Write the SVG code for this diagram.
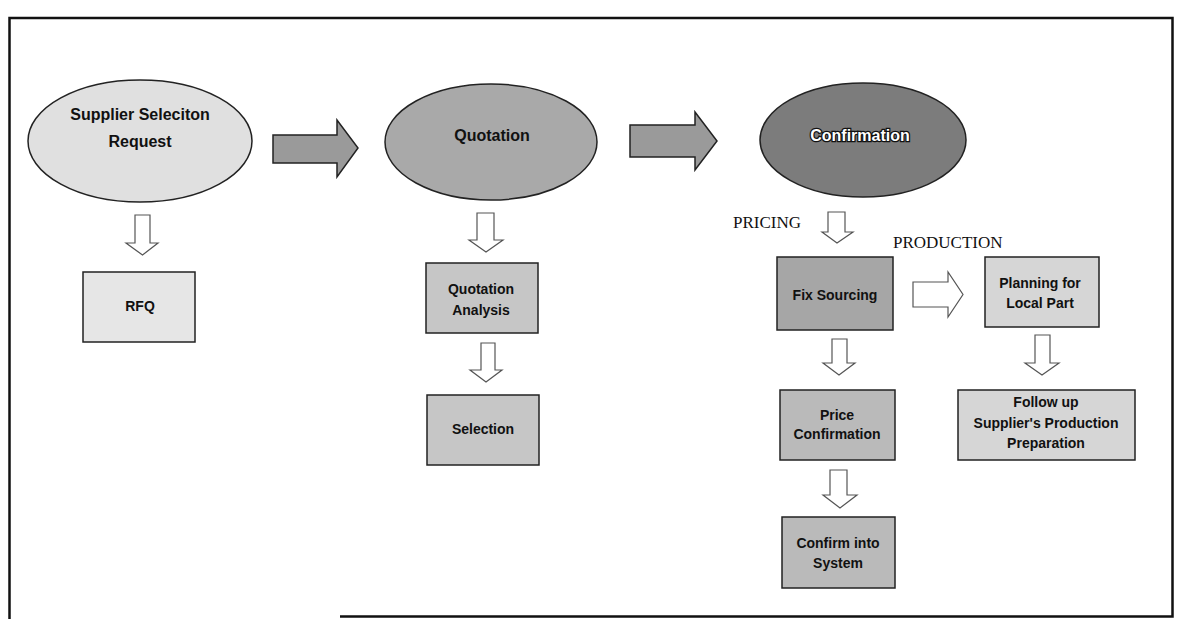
<svg xmlns="http://www.w3.org/2000/svg" width="1179" height="619" viewBox="0 0 1179 619">
  <style>
    .frame { fill: none; stroke: #111; stroke-width: 2.5; }
    .oval { stroke: #222; stroke-width: 1.5; }
    .box { stroke: #222; stroke-width: 1.5; }
    .bigarrow { fill: #9a9a9a; stroke: #222; stroke-width: 1.5; stroke-linejoin: miter; }
    .smallarrow { fill: #fff; stroke: #555; stroke-width: 1.2; stroke-linejoin: miter; }
    .ovaltext { font-family: "Liberation Sans", Arial, sans-serif; font-weight: bold; font-size: 16px; text-anchor: middle; fill: #111; }
    .ovaltext.light { fill: #fff; stroke: #111; stroke-width: 2.5; paint-order: stroke; }
    .boxtext { font-family: "Liberation Sans", Arial, sans-serif; font-weight: bold; font-size: 14px; text-anchor: middle; fill: #111; }
    .label { font-family: "Liberation Serif", "Times New Roman", serif; font-size: 17px; fill: #111; }
  </style>

  <rect width="1179" height="619" fill="#fff"/>

  <!-- outer frame (bottom edge starts part way across) -->
  <path class="frame" d="M 340 616.5 L 1172.5 616.5 L 1172.5 18 L 9.5 18 L 9.5 619"/>

  <!-- stage ellipses -->
  <g id="node-supplier-request">
    <ellipse class="oval" cx="140" cy="141" rx="112" ry="61" fill="#e0e0e0"/>
    <text class="ovaltext" x="140" y="120">Supplier Seleciton</text>
    <text class="ovaltext" x="140" y="147">Request</text>
  </g>

  <g id="node-quotation">
    <ellipse class="oval" cx="491" cy="142" rx="106" ry="58" fill="#a9a9a9"/>
    <text class="ovaltext" x="492" y="141">Quotation</text>
  </g>

  <g id="node-confirmation">
    <ellipse class="oval" cx="863" cy="140" rx="103" ry="57" fill="#7c7c7c"/>
    <text class="ovaltext light" x="860" y="141">Confirmation</text>
  </g>

  <!-- process boxes -->
  <g id="node-rfq">
    <rect class="box" x="83" y="272" width="112" height="70" fill="#e6e6e6"/>
    <text class="boxtext" x="140" y="311">RFQ</text>
  </g>

  <g id="node-quotation-analysis">
    <rect class="box" x="426" y="263" width="112" height="70" fill="#c6c6c6"/>
    <text class="boxtext" x="481" y="294">Quotation</text>
    <text class="boxtext" x="481" y="315">Analysis</text>
  </g>

  <g id="node-selection">
    <rect class="box" x="427" y="395" width="112" height="70" fill="#c6c6c6"/>
    <text class="boxtext" x="483" y="434">Selection</text>
  </g>

  <g id="node-fix-sourcing">
    <rect class="box" x="777" y="257" width="116" height="73" fill="#a6a6a6"/>
    <text class="boxtext" x="835" y="300">Fix Sourcing</text>
  </g>

  <g id="node-price-confirmation">
    <rect class="box" x="780" y="390" width="115" height="70" fill="#bababa"/>
    <text class="boxtext" x="837" y="420">Price</text>
    <text class="boxtext" x="837" y="439">Confirmation</text>
  </g>

  <g id="node-confirm-system">
    <rect class="box" x="782" y="517" width="113" height="71" fill="#bababa"/>
    <text class="boxtext" x="838" y="548">Confirm into</text>
    <text class="boxtext" x="838" y="568">System</text>
  </g>

  <g id="node-planning">
    <rect class="box" x="985" y="257" width="114" height="70" fill="#d6d6d6"/>
    <text class="boxtext" x="1040" y="288">Planning for</text>
    <text class="boxtext" x="1040" y="308">Local Part</text>
  </g>

  <g id="node-follow-up">
    <rect class="box" x="958" y="390" width="177" height="70" fill="#d6d6d6"/>
    <text class="boxtext" x="1046" y="407">Follow up</text>
    <text class="boxtext" x="1046" y="428">Supplier's Production</text>
    <text class="boxtext" x="1046" y="448">Preparation</text>
  </g>

  <!-- branch labels -->
  <g id="labels">
    <text class="label" x="733" y="228">PRICING</text>
    <text class="label" x="893" y="248">PRODUCTION</text>
  </g>

  <!-- block arrows -->
  <g id="connectors">
    <!-- stage to stage -->
    <path class="bigarrow" d="M 273 135 L 337 135 L 337 120 L 358 148 L 337 177 L 337 163 L 273 163 Z"/>
    <path class="bigarrow" d="M 630 125 L 695 125 L 695 112 L 717 141 L 695 170 L 695 157 L 630 157 Z"/>

    <!-- downward arrows -->
    <path class="smallarrow" d="M 135 215 L 150 215 L 150 243 L 158 243 L 142.5 255 L 126 243 L 135 243 Z"/>
    <path class="smallarrow" d="M 477 213 L 494 213 L 494 240 L 503 240 L 486 252 L 469 240 L 477 240 Z"/>
    <path class="smallarrow" d="M 481 343 L 495 343 L 495 370 L 502 370 L 486 382 L 470 370 L 481 370 Z"/>
    <path class="smallarrow" d="M 828 212 L 845 212 L 845 232 L 853 232 L 837 243 L 822 232 L 828 232 Z"/>
    <path class="smallarrow" d="M 832 339 L 847 339 L 847 363 L 855 363 L 839 375 L 823 363 L 832 363 Z"/>
    <path class="smallarrow" d="M 830 470 L 847 470 L 847 495 L 857 495 L 840 508 L 823 495 L 830 495 Z"/>
    <path class="smallarrow" d="M 1035 335 L 1050 335 L 1050 363 L 1059 363 L 1042 375 L 1025 363 L 1035 363 Z"/>

    <!-- rightward arrow to production branch -->
    <path class="smallarrow" d="M 913 282 L 948 282 L 948 272 L 963 294.5 L 948 317 L 948 307 L 913 307 Z"/>
  </g>
</svg>
